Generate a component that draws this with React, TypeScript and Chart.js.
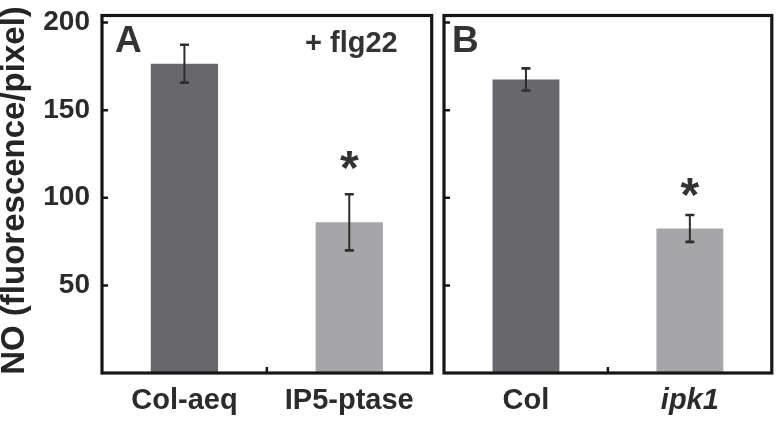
import React, { useEffect, useRef } from "react";
import { Chart, registerables } from "chart.js";

Chart.register(...registerables);

// ---- data ----
const panelACategories = ["Col-aeq", "IP5-ptase"];
const panelAValues = [176.5, 86];
const panelAErrors = [10.8, 16];
const panelASignificant = [false, true];

const panelBCategories = ["Col", "ipk1"];
const panelBValues = [167.5, 82.5];
const panelBErrors = [6.3, 7.7];
const panelBSignificant = [false, true];
const panelBItalic = [false, true];

const yTickValues = [50, 100, 150, 200];
const yMin = 0;
const yMax = 204;
const yAxisTitle = "NO (fluorescence/pixel)";
const treatmentLabel = "+ flg22";
const panelLetters = ["A", "B"];

const barColors = ["#68686c", "#a6a6a8"];
const FONT = "'Liberation Sans', Arial, Helvetica, sans-serif";
const TEXT = "#2b2b2b";

type PanelCfg = {
  categories: string[];
  values: number[];
  errors: number[];
  significant: boolean[];
  italic: boolean[];
  letter: string;
  letterDx: number;
  starGap: number;
  yWidth: number;
  padRight: number;
  showYLabels: boolean;
  first: boolean;
};

function makeOverlay(p: PanelCfg) {
  return {
    id: "overlay",
    afterDatasetsDraw(chart: any) {
      const { ctx, chartArea: a, scales } = chart;
      const x = scales.x;
      const y = scales.y;
      ctx.save();
      // error bars + significance
      p.values.forEach((v, i) => {
        const px = x.getPixelForValue(i);
        const top = y.getPixelForValue(v + p.errors[i]);
        const bot = y.getPixelForValue(v - p.errors[i]);
        ctx.strokeStyle = "#2e2e2e";
        ctx.lineWidth = 2;
        ctx.beginPath();
        ctx.moveTo(px, top);
        ctx.lineTo(px, bot);
        ctx.stroke();
        ctx.lineWidth = 2.6;
        ctx.beginPath();
        ctx.moveTo(px - 4.5, top);
        ctx.lineTo(px + 4.5, top);
        ctx.moveTo(px - 4.5, bot);
        ctx.lineTo(px + 4.5, bot);
        ctx.stroke();
        if (p.significant[i]) {
          ctx.font = `bold 48px ${FONT}`;
          ctx.fillStyle = "#333";
          ctx.textAlign = "center";
          ctx.textBaseline = "alphabetic";
          const m = ctx.measureText("*");
          const cy = top - p.starGap;
          const by = cy - (m.actualBoundingBoxDescent - m.actualBoundingBoxAscent) / 2;
          ctx.fillText("*", px, by);
        }
      });
      // frame
      ctx.strokeStyle = "#161616";
      ctx.lineWidth = 3.2;
      ctx.strokeRect(a.left, a.top, a.right - a.left, a.bottom - a.top);
      // inward ticks
      ctx.lineWidth = 2.5;
      ctx.beginPath();
      yTickValues.forEach((t) => {
        const py = y.getPixelForValue(t);
        ctx.moveTo(a.left, py);
        ctx.lineTo(a.left + 6, py);
      });
      const mid = (x.getPixelForValue(0) + x.getPixelForValue(1)) / 2;
      ctx.moveTo(mid, a.bottom);
      ctx.lineTo(mid, a.bottom - 6);
      ctx.stroke();
      // panel letter
      ctx.fillStyle = "#333";
      ctx.font = `bold 37px ${FONT}`;
      ctx.textAlign = "left";
      ctx.textBaseline = "alphabetic";
      ctx.fillText(p.letter, a.left + p.letterDx, 52);
      if (p.first) {
        ctx.font = `bold 29px ${FONT}`;
        ctx.fillText(treatmentLabel, 305, 52);
        // y axis title
        ctx.font = `bold 33px ${FONT}`;
        ctx.fillStyle = "#252525";
        const m = ctx.measureText(yAxisTitle);
        const bx = 15.5 + (m.actualBoundingBoxAscent - m.actualBoundingBoxDescent) / 2;
        ctx.translate(bx, 190.5);
        ctx.rotate(-Math.PI / 2);
        ctx.textAlign = "center";
        ctx.fillText(yAxisTitle, 0, 0);
      }
      ctx.restore();
    },
  };
}

function buildChart(canvas: HTMLCanvasElement, p: PanelCfg) {
  return new Chart(canvas, {
    type: "bar",
    data: {
      labels: p.categories,
      datasets: [
        {
          data: p.values,
          backgroundColor: barColors,
          borderWidth: 0,
          barPercentage: 0.408,
          categoryPercentage: 1,
        },
      ],
    },
    options: {
      responsive: false,
      maintainAspectRatio: false,
      animation: false,
      layout: { padding: { left: 0, right: p.padRight, top: 15.5, bottom: 0 } },
      plugins: { legend: { display: false }, tooltip: { enabled: false } },
      scales: {
        x: {
          grid: { display: false, drawTicks: false },
          border: { display: false },
          ticks: {
            padding: 11,
            color: TEXT,
            font: (c: any) => ({
              family: FONT,
              size: 29,
              weight: "bold",
              style: p.italic[c.index] ? "italic" : "normal",
            }),
          },
          afterFit: (s: any) => {
            s.height = 49;
            s.paddingLeft = 0;
            s.paddingRight = 0;
          },
        },
        y: {
          min: yMin,
          max: yMax,
          grid: { display: false, drawTicks: false },
          border: { display: false },
          ticks: {
            display: p.showYLabels,
            stepSize: 50,
            includeBounds: false,
            padding: 12,
            color: TEXT,
            font: { family: FONT, size: 28, weight: "bold" },
            callback: (v: any) => (yTickValues.includes(Number(v)) ? String(v) : ""),
          },
          afterFit: (s: any) => {
            s.width = p.yWidth;
            s.paddingTop = 0;
            s.paddingBottom = 0;
          },
        },
      },
    },
    plugins: [makeOverlay(p)],
  } as any);
}

const panelA: PanelCfg = {
  categories: panelACategories,
  values: panelAValues,
  errors: panelAErrors,
  significant: panelASignificant,
  italic: [false, false],
  letter: panelLetters[0],
  letterDx: 13,
  starGap: 34,
  yWidth: 102,
  padRight: 6.3,
  showYLabels: true,
  first: true,
};

const panelB: PanelCfg = {
  categories: panelBCategories,
  values: panelBValues,
  errors: panelBErrors,
  significant: panelBSignificant,
  italic: panelBItalic,
  letter: panelLetters[1],
  letterDx: 8,
  starGap: 28,
  yWidth: 6,
  padRight: 4.2,
  showYLabels: false,
  first: false,
};

export default function App() {
  const refA = useRef<HTMLCanvasElement>(null);
  const refB = useRef<HTMLCanvasElement>(null);
  useEffect(() => {
    const a = buildChart(refA.current!, panelA);
    const b = buildChart(refB.current!, panelB);
    return () => {
      a.destroy();
      b.destroy();
    };
  }, []);
  return (
    <div style={{ position: "absolute", left: 0, top: 0, width: 776, height: 422, background: "#fff" }}>
      <canvas
        ref={refA}
        width={438}
        height={422}
        style={{ position: "absolute", left: 0, top: 0, width: 438, height: 422 }}
      />
      <canvas
        ref={refB}
        width={338}
        height={422}
        style={{ position: "absolute", left: 438, top: 0, width: 338, height: 422 }}
      />
    </div>
  );
}
